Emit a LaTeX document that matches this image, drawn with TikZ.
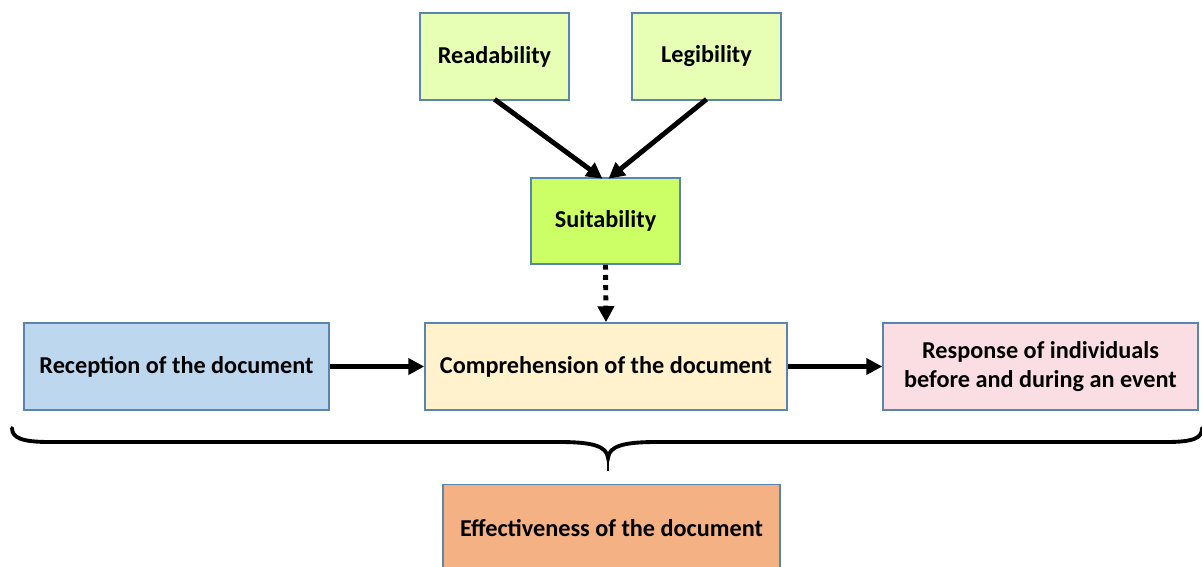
\documentclass[tikz,border=0pt]{standalone}
\usepackage{fontspec}
\setmainfont{Carlito}
\usetikzlibrary{arrows.meta}
\definecolor{edgeblue}{HTML}{5A85B0}
\definecolor{lightgreen}{HTML}{E6FFB5}
\definecolor{limegreen}{HTML}{CCFF66}
\definecolor{paleblue}{HTML}{BDD7EE}
\definecolor{paleyellow}{HTML}{FFF2CC}
\definecolor{palepink}{HTML}{FADEE3}
\definecolor{paleorange}{HTML}{F4B183}
\begin{document}
\begin{tikzpicture}[
    x=0.02cm, y=-0.02cm,
    box/.style={draw=edgeblue, line width=0.9pt, fill=#1, align=center, inner sep=0pt,
        font=\fontsize{13.8}{16.5}\selectfont\bfseries},
    arrow/.style={-{Triangle[length=0.32cm, width=0.32cm]}, line width=2.8pt}
]
    \useasboundingbox (0,0) rectangle (1202,566);

    \node[box=lightgreen, minimum width=2.98cm, minimum height=1.74cm] (readab) at (494.5,56.5) {Readability};
    \node[box=lightgreen, minimum width=2.98cm, minimum height=1.74cm] (legib) at (706.5,56.5) {Legibility};
    \node[box=limegreen, minimum width=2.98cm, minimum height=1.72cm] (suit) at (605.5,221) {Suitability};

    \node[box=paleblue, minimum width=6.1cm, minimum height=1.74cm] (recep) at (176.5,366.5) {Reception of the document};
    \node[box=paleyellow, minimum width=7.24cm, minimum height=1.74cm] (compr) at (606,366.5) {Comprehension of the document};
    \node[box=palepink, minimum width=6.3cm, minimum height=1.74cm] (resp) at (1040.5,366.5) {Response of individuals\\before and during an event};
    \node[box=paleorange, minimum width=6.74cm, minimum height=1.74cm] (effect) at (611.5,528) {Effectiveness of the document};

    \draw[arrow] ([yshift=0.03cm]readab.south) -- ([xshift=-0.06cm,yshift=-0.03cm]suit.north);
    \draw[arrow] ([yshift=0.03cm]legib.south) -- ([xshift=0.06cm,yshift=-0.03cm]suit.north);
    \draw[arrow, dash pattern=on 2.8pt off 3pt] (suit.south) -- (compr.north);
    \draw[arrow] (recep) -- (compr);
    \draw[arrow] (compr) -- (resp);

    % brace under the three stages
    \coordinate (bl) at (12,428);
    \coordinate (br) at (1202,428);
    \coordinate (tip) at (608,471);
    \draw[line width=2.2pt, line cap=round]
        (bl) .. controls (12,438) and (22,442) .. (50,442) -- (560,442)
        .. controls (592,442) and (607,446) .. (608,458)
        .. controls (609,446) and (624,442) .. (656,442) -- (1166,442)
        .. controls (1194,442) and (1202,438) .. (br);
    \draw[line width=1.6pt] (608,452) -- (tip);
\end{tikzpicture}
\end{document}
